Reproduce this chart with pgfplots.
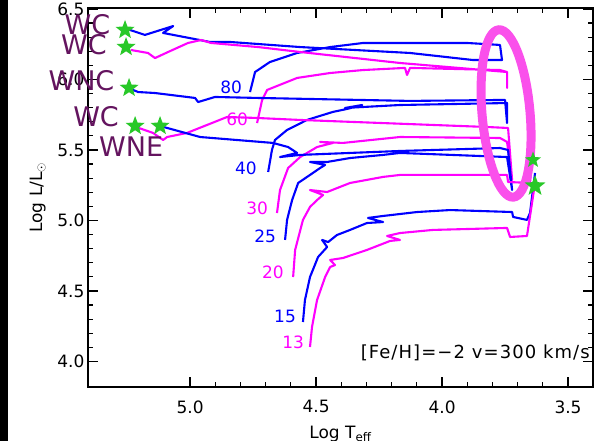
\documentclass[border=0pt]{standalone}
\usepackage{fontspec}
\setmainfont{DejaVu Sans}
\usepackage{pgfplots}
\pgfplotsset{compat=1.18}
\usetikzlibrary{shapes.geometric}

\definecolor{trkblue}{RGB}{0,0,255}
\definecolor{trkmag}{RGB}{255,0,255}
\definecolor{ovalpink}{RGB}{250,80,235}
\definecolor{wrpurple}{RGB}{100,20,95}
\definecolor{stargreen}{RGB}{40,200,40}

% filled five-pointed star
\pgfdeclareplotmark{fstar}{%
  \pgfpathmoveto{\pgfpointpolar{90}{\pgfplotmarksize}}%
  \pgfpathlineto{\pgfpointpolar{126}{0.42\pgfplotmarksize}}%
  \pgfpathlineto{\pgfpointpolar{162}{\pgfplotmarksize}}%
  \pgfpathlineto{\pgfpointpolar{198}{0.42\pgfplotmarksize}}%
  \pgfpathlineto{\pgfpointpolar{234}{\pgfplotmarksize}}%
  \pgfpathlineto{\pgfpointpolar{270}{0.42\pgfplotmarksize}}%
  \pgfpathlineto{\pgfpointpolar{306}{\pgfplotmarksize}}%
  \pgfpathlineto{\pgfpointpolar{342}{0.42\pgfplotmarksize}}%
  \pgfpathlineto{\pgfpointpolar{18}{\pgfplotmarksize}}%
  \pgfpathlineto{\pgfpointpolar{54}{0.42\pgfplotmarksize}}%
  \pgfpathclose\pgfusepathqfill}

\begin{document}
\begin{tikzpicture}[font=\fontsize{17bp}{20bp}\selectfont]
\begin{axis}[
  scale only axis, width=505bp, height=379bp,
  x dir=reverse, xmin=3.401, xmax=5.405, ymin=3.819, ymax=6.507,
  xtick={3.5,4.0,4.5,5.0}, ytick={4.0,4.5,5.0,5.5,6.0,6.5},
  minor x tick num=4, minor y tick num=4,
  tick align=inside, major tick length=10bp, minor tick length=5bp,
  axis line style={line width=1.5bp},
  every tick/.style={black, line width=1.2bp},
  xticklabel style={yshift=-10bp},
  /pgf/number format/.cd, fixed, fixed zerofill, precision=1, assume math mode=true,
  /pgfplots/.cd,
  xlabel={Log T\textsubscript{eff}}, ylabel={Log L/L$_\odot$},
  every axis x label/.style={at={(axis description cs:0.5,0)}, anchor=base, yshift=-51bp},
  every axis y label/.style={at={(axis description cs:-0.091,0.5)}, rotate=90, anchor=base},
  clip=false,
  trk/.style={line width=2.1bp, mark=none, line join=round},
]
% 80
\addplot[trk, trkblue] coordinates {
 (4.762,5.911) (4.742,6.053) (4.683,6.124) (4.575,6.188) (4.444,6.230) (4.313,6.259)
 (4.127,6.259) (3.901,6.259) (3.770,6.245) (3.762,6.138) (3.877,6.138) (4.127,6.188)
 (4.563,6.230) (4.841,6.266) (4.921,6.266) (5.107,6.330) (5.067,6.379) (5.179,6.316) (5.250,6.358)};
% 60
\addplot[trk, trkmag] coordinates {
 (4.734,5.691) (4.714,5.855) (4.694,5.926) (4.575,6.011) (4.444,6.046) (4.313,6.067)
 (4.147,6.082) (4.139,6.032) (4.127,6.082) (3.770,6.067) (3.742,6.053) (3.742,5.940)
 (3.742,6.053) (4.167,6.117) (4.563,6.195) (4.730,6.230) (4.917,6.259) (4.956,6.280)
 (5.008,6.259) (5.087,6.195) (5.139,6.152) (5.167,6.188) (5.234,6.209)};
% 40
\addplot[trk, trkblue] coordinates {
 (4.690,5.344) (4.675,5.500) (4.663,5.571) (4.615,5.642) (4.536,5.713) (4.433,5.770)
 (4.377,5.791) (4.317,5.819) (4.385,5.798) (4.167,5.819) (3.742,5.833) (3.742,5.691)
 (3.750,5.855) (4.127,5.848) (4.730,5.869) (4.901,5.876) (4.968,5.840) (4.980,5.869)
 (5.139,5.904) (5.206,5.911) (5.246,5.940)};
% 30
\addplot[trk, trkmag] coordinates {
 (4.655,5.053) (4.643,5.216) (4.611,5.372) (4.563,5.450) (4.496,5.521) (4.433,5.550)
 (4.484,5.557) (4.393,5.550) (4.167,5.592) (3.770,5.585) (3.742,5.557) (3.722,5.287)
 (3.738,5.656) (3.821,5.663) (4.563,5.713) (4.734,5.727) (4.853,5.734) (5.012,5.621)
 (5.091,5.592) (5.107,5.571) (5.147,5.621) (5.226,5.670)};
% 25
\addplot[trk, trkblue] coordinates {
 (4.623,4.862) (4.615,5.004) (4.595,5.145) (4.571,5.266) (4.524,5.323) (4.484,5.372)
 (4.464,5.394) (4.524,5.415) (4.456,5.415) (4.365,5.443) (4.234,5.465) (4.167,5.479)
 (3.742,5.450) (3.722,5.216) (3.738,5.500) (3.770,5.514) (4.167,5.493) (4.563,5.465)
 (4.643,5.450) (4.575,5.479) (4.611,5.521) (4.671,5.550) (4.960,5.592) (5.119,5.670)};
% 20
\addplot[trk, trkmag] coordinates {
 (4.591,4.599) (4.583,4.791) (4.552,5.004) (4.524,5.096) (4.496,5.145) (4.472,5.181)
 (4.524,5.216) (4.456,5.202) (4.365,5.266) (4.234,5.309) (4.167,5.323) (3.742,5.323)
 (3.738,5.273) (3.651,5.266) (3.643,5.415)};
% 15
\addplot[trk, trkblue] coordinates {
 (4.552,4.280) (4.544,4.436) (4.524,4.599) (4.492,4.741) (4.456,4.812) (4.476,4.862)
 (4.452,4.847) (4.417,4.897) (4.365,4.933) (4.298,4.982) (4.234,4.989) (4.294,5.018)
 (4.234,5.032) (4.099,5.060) (3.968,5.074) (3.722,5.060) (3.718,5.025) (3.663,5.004)
 (3.651,5.053) (3.631,5.337)};
% 13
\addplot[trk, trkmag] coordinates {
 (4.524,4.103) (4.516,4.245) (4.496,4.436) (4.464,4.599) (4.444,4.670) (4.425,4.684)
 (4.444,4.720) (4.393,4.734) (4.298,4.791) (4.206,4.855) (4.167,4.862) (4.218,4.890)
 (4.167,4.911) (4.036,4.933) (3.742,4.947) (3.730,4.883) (3.663,4.890) (3.643,5.124)
 (3.631,5.266)};

% end-point stars
\addplot[only marks, mark=fstar, mark size=10bp, color=stargreen] coordinates {
 (5.258,6.351) (5.254,6.230) (5.242,5.940) (5.218,5.670) (5.119,5.670)};
\addplot[only marks, mark=fstar, mark size=8.5bp, color=stargreen] coordinates {(3.639,5.429)};

\node[draw=ovalpink, line width=9bp, ellipse, inner sep=0pt, minimum width=48bp,
      minimum height=168bp, rotate=5] at (axis cs:3.746,5.759) {};

\addplot[only marks, mark=fstar, mark size=11bp, color=stargreen] coordinates {(3.631,5.245)};

% mass labels
\node[trkblue, inner sep=0] at (axis cs:4.837,5.947) {80};
\node[trkmag,  inner sep=0] at (axis cs:4.813,5.720) {60};
\node[trkblue, inner sep=0] at (axis cs:4.778,5.372) {40};
\node[trkmag,  inner sep=0] at (axis cs:4.734,5.089) {30};
\node[trkblue, inner sep=0] at (axis cs:4.702,4.890) {25};
\node[trkmag,  inner sep=0] at (axis cs:4.671,4.635) {20};
\node[trkblue, inner sep=0] at (axis cs:4.623,4.323) {15};
\node[trkmag,  inner sep=0] at (axis cs:4.591,4.138) {13};

% WR types
\begin{scope}[every node/.style={wrpurple, inner sep=0, font=\fontsize{27bp}{30bp}\selectfont}]
\node at (axis cs:5.407,6.386) {WC};
\node at (axis cs:5.421,6.245) {WC};
\node at (axis cs:5.431,5.989) {WNC};
\node at (axis cs:5.373,5.734) {WC};
\node at (axis cs:5.234,5.521) {WNE};
\end{scope}

\node[anchor=base east, inner sep=0, font=\fontsize{18bp}{20bp}\selectfont\addfontfeature{LetterSpace=6}]
  at (axis description cs:0.994,0.074) {[Fe/H]=−2 v=300 km/s};
\end{axis}
\pgfresetboundingbox
\fill[black] ([shift={(-88bp,-54bp)}]current axis.south west) rectangle ([shift={(-80bp,8bp)}]current axis.north west);
\path ([shift={(-88bp,-54bp)}]current axis.south west) rectangle ([shift={(6bp,8bp)}]current axis.north east);
\end{tikzpicture}
\end{document}
